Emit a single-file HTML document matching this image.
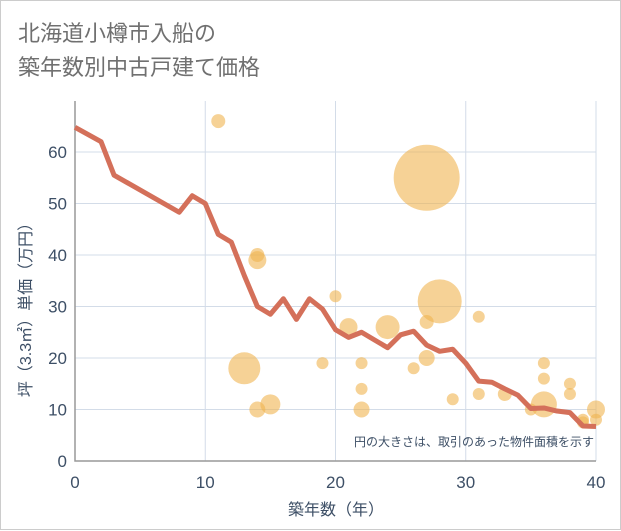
<!DOCTYPE html>
<html><head><meta charset="utf-8"><style>
body{margin:0;background:#fff;font-family:"Liberation Sans","Noto Sans CJK JP",sans-serif;}
#wrap{position:relative;width:619px;height:528px;border:1px solid #ccc;background:#fff;}
.title{position:absolute;left:17px;top:16px;font-size:22px;line-height:34px;color:#707070;}
svg{position:absolute;left:0;top:0;}
</style></head><body>
<div id="wrap">
<div class="title">北海道小樽市入船の<br>築年数別中古戸建て価格</div>
<svg id="chart" width="621" height="530"></svg>
</div>
<script>
const lineYears=[0,2,3,8,9,10,11,12,13,14,15,16,17,18,19,20,21,22,23,24,25,26,27,28,29,30,31,32,33,34,35,36,37,38,39,40];
const lineValues=[64.8,62,55.5,48.3,51.5,50,44,42.5,36,30,28.5,31.5,27.5,31.5,29.5,25.5,24,25,23.5,22,24.5,25.2,22.5,21.3,21.7,19,15.5,15.3,14,12.8,10.2,10.3,9.7,9.4,6.8,6.7];
const bubbleYears=[11,27,28,14,14,13,14,15,20,21,22,22,22,19,24,26,27,27,29,31,31,33,35,36,36,36,38,38,39,39,40,40];
const bubbleValues=[66,55,31,40,39,18,10,11,32,26,19,14,10,19,26,18,27,20,12,28,13,13,10,19,16,11,15,13,7.5,8,10,8];
const bubbleAreas=[7,33,22,7,9,16,8,10,6,9,6,6,8,6,12,6,7,8,6,6,6,7,6,6,6,13,6,6,6,6,9,6];
const xTicks=[0,10,20,30,40];
const yTicks=[0,10,20,30,40,50,60];
const X0=74,X1=595,Y0=460,Y1=151;
const sx=v=>X0+(X1-X0)*v/40;
const sy=v=>Y0-(Y0-Y1)*v/60;
const NS="http://www.w3.org/2000/svg";
const svg=document.getElementById('chart');
const TC='#3d4f66';
function mk(t,a){const e=document.createElementNS(NS,t);for(const k in a)e.setAttribute(k,a[k]);svg.appendChild(e);return e;}
for(const t of xTicks){const l=mk('line',{x1:sx(t),x2:sx(t),y1:100,y2:Y0,stroke:'#d3dce8','stroke-width':1});


const tx=mk('text',{x:sx(t),y:487,'text-anchor':'middle','font-size':17,fill:TC});tx.textContent=t;

}
for(const t of yTicks){const l=mk('line',{x1:X0,x2:X1,y1:sy(t),y2:sy(t),stroke:'#d3dce8','stroke-width':1});


const tx=mk('text',{x:66,y:sy(t)+6,'text-anchor':'end','font-size':17,fill:TC});tx.textContent=t;

}
const ax=mk('path',{d:`M${X0} 100V${Y0}H${X1}`,stroke:'#999',fill:'none','stroke-width':1.5});


bubbleYears.forEach((yr,i)=>{const c=mk('circle',{cx:sx(yr),cy:sy(bubbleValues[i]),r:bubbleAreas[i],fill:'rgba(240,180,80,0.6)'});

});
const pl=mk('polyline',{points:lineYears.map((y,i)=>sx(y)+','+sy(lineValues[i])).join(' '),fill:'none',stroke:'#d4705a','stroke-width':5,'stroke-linejoin':'round'});


const note=mk('text',{x:593,y:445,'text-anchor':'end','font-size':12,fill:TC});note.textContent='円の大きさは、取引のあった物件面積を示す';


const xt=mk('text',{x:335,y:514,'text-anchor':'middle','font-size':16,fill:TC});xt.textContent='築年数（年）';


const yt=mk('text',{x:0,y:0,'text-anchor':'middle','font-size':16,fill:TC,transform:'translate(30,305) rotate(-90)'});yt.textContent='坪（3.3㎡）単価（万円）';


</script>
</body></html>
